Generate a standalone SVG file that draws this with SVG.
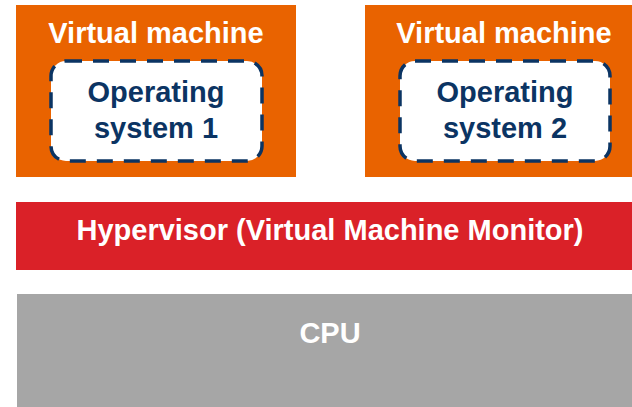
<svg xmlns="http://www.w3.org/2000/svg" width="632" height="407" viewBox="0 0 632 407">
<style>
.vm{fill:#E96300}
.os{fill:#FFFFFF;stroke:#0B3463;stroke-width:3.5;stroke-dasharray:16 11}
.t{font-family:"Liberation Sans",Arial,sans-serif;font-weight:bold;font-size:29px;text-anchor:middle}
.w{fill:#FFFFFF}
.b{fill:#0B3463}
</style>
<rect width="632" height="407" fill="#FFFFFF"/>
<g id="vm1">
<rect class="vm" x="16" y="5" width="280" height="172"/>
<text class="t w" x="156" y="43">Virtual machine</text>
</g>
<g id="os1">
<rect class="os" x="51" y="61" width="211" height="100" rx="15"/>
<text class="t b" x="156" y="102">Operating</text>
<text class="t b" x="156" y="138">system 1</text>
</g>
<g id="vm2">
<rect class="vm" x="365" y="5" width="267" height="172"/>
<text class="t w" x="504" y="43">Virtual machine</text>
</g>
<g id="os2">
<rect class="os" x="400" y="61" width="210" height="100" rx="15"/>
<text class="t b" x="505" y="102">Operating</text>
<text class="t b" x="505" y="138">system 2</text>
</g>
<g id="hypervisor">
<rect x="16" y="202" width="616" height="68" fill="#DA2128"/>
<text class="t w" x="330" y="240" font-size="30">Hypervisor (Virtual Machine Monitor)</text>
</g>
<g id="cpu">
<rect x="17" y="294" width="615" height="113" fill="#A6A6A6"/>
<text class="t w" x="330" y="343">CPU</text>
</g>
<g id="connectors"/>
</svg>
